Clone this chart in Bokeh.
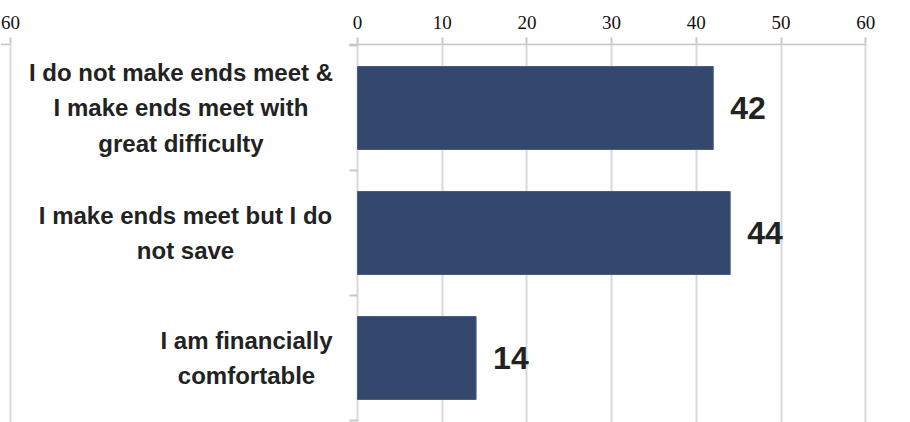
from bokeh.plotting import figure
from bokeh.models import Range1d, FixedTicker, ColumnDataSource
from bokeh.core.properties import value
from bokeh.embed import file_html
from bokeh.resources import INLINE

# ---- data ----
categories = [
    "I do not make ends meet &\nI make ends meet with\ngreat difficulty",
    "I make ends meet but I do\nnot save",
    "I am financially\ncomfortable",
]
values = [42, 44, 14]
value_labels = ["42", "44", "14"]
tick_values = [0, 10, 20, 30, 40, 50, 60]
left_panel_tick_label = "60"

# ---- layout (pixels) ----
PX_PER_UNIT = 8.47
ZERO_PX = 357           # canvas x of value 0
FRAME_W = 900
FRAME_TOP = 43          # canvas y of frame top
CAT_TOP = 45            # canvas y of first category boundary
CAT_PX = 125            # pixel height per category
CANVAS_H = 422
label_center_px = [180.5, 185, 246]   # canvas x centres of category label blocks
left_tick_px = 10       # canvas x of the left panel's "60" tick

x_start = -ZERO_PX / PX_PER_UNIT
x_end = (FRAME_W - ZERO_PX) / PX_PER_UNIT
y_top = (FRAME_TOP - CAT_TOP) / CAT_PX
y_bottom = (CANVAS_H - CAT_TOP) / CAT_PX
left_tick = round((left_tick_px - ZERO_PX) / PX_PER_UNIT, 2)

n = len(categories)
pos = [i + 0.5 for i in range(n)]

src = ColumnDataSource(dict(
    y=pos, v=values, vl=value_labels, cat=categories,
    lx=[(c - ZERO_PX) / PX_PER_UNIT for c in label_center_px],
))

p = figure(width=FRAME_W, height=CANVAS_H, output_backend="svg", toolbar_location=None,
           x_range=Range1d(x_start, x_end), y_range=Range1d(y_bottom, y_top),
           x_axis_location="above", y_axis_location=None,
           min_border_left=0, min_border_right=0, min_border_bottom=0,
           min_border_top=FRAME_TOP)
p.outline_line_color = None
p.background_fill_color = "white"
p.border_fill_color = "white"

GRID = "#d9d9d9"
ticks = [left_tick] + tick_values
p.xaxis.ticker = FixedTicker(ticks=ticks)
p.xaxis.major_label_overrides = {left_tick: left_panel_tick_label}
p.xaxis.axis_line_color = None
p.xaxis.major_tick_line_color = "#c8c8c8"
p.xaxis.major_tick_line_width = 2
p.xaxis.major_tick_out = 6
p.xaxis.major_tick_in = 0
p.xaxis.minor_tick_line_color = None
p.xaxis.major_label_text_font = "Liberation Serif"
p.xaxis.major_label_text_font_size = "19px"
p.xaxis.major_label_text_color = "#111111"
p.xaxis.major_label_standoff = 9

p.xgrid.ticker = FixedTicker(ticks=ticks)
p.xgrid.grid_line_color = GRID
p.xgrid.grid_line_width = 2
p.ygrid.grid_line_color = None

# top axis line pieces (gap between the two panels)
p.segment(x0=[x_start, -1.0], x1=[left_tick, tick_values[-1]],
          y0=[y_top + 0.006] * 2, y1=[y_top + 0.006] * 2,
          line_color="#c8c8c8", line_width=2)
# category ticks on value axis
bounds = list(range(n + 1))
p.segment(x0=[-0.95] * len(bounds), x1=[0] * len(bounds), y0=bounds, y1=bounds,
          line_color="#c8c8c8", line_width=2)

p.hbar(y="y", right="v", left=0, height=0.664, source=src,
       fill_color="#34486e", line_color="#4a5d80", line_width=1)

p.text(x="v", y="y", text="vl", source=src, x_offset=17,
       text_align="left", text_baseline="middle",
       text_font=value("Liberation Sans"), text_font_style="bold",
       text_font_size="32px", text_color="#222222")

p.text(x="lx", y="y", text="cat", source=src,
       text_align="center", text_baseline="middle", text_line_height=1.3,
       text_font=value("Liberation Sans"), text_font_style="bold",
       text_font_size="24px", text_color="#222222")

open("out.html", "w").write(file_html(p, INLINE))
